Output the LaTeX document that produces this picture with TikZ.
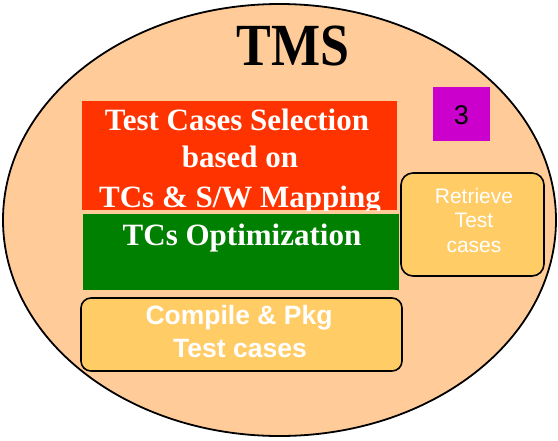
\documentclass[tikz,border=0pt]{standalone}
\usepackage{fontspec}
\setmainfont{Liberation Serif}
\newfontfamily\arialfont{Liberation Sans}
\usetikzlibrary{shapes.geometric}
\definecolor{peach}{HTML}{FFCC99}
\definecolor{softorange}{HTML}{FFCC66}
\definecolor{selred}{HTML}{FF3300}
\definecolor{optgreen}{HTML}{008000}
\definecolor{tagmagenta}{HTML}{CC00CC}
\tikzset{
  panel/.style={rectangle, inner sep=0pt, outer sep=0pt, anchor=north west},
  softbox/.style={panel, draw=black, line width=1.6pt, fill=softorange, rounded corners=12pt},
  serifhead/.style={anchor=base, text=white, inner sep=0pt, font=\bfseries\fontsize{31}{38}\selectfont},
  sanslabel/.style={anchor=base, text=white, inner sep=0pt, font=\arialfont\fontsize{21}{25}\selectfont},
  sansbold/.style={anchor=base, text=white, inner sep=0pt, font=\arialfont\bfseries\fontsize{26.5}{31}\selectfont}
}
\begin{document}
\begin{tikzpicture}[x=1pt,y=-1pt]
\useasboundingbox (0,0) rectangle (558,440);
% outer system ellipse
\node (tms) [ellipse, draw=black, line width=1.8pt, fill=peach, inner sep=0pt,
  minimum width=553pt, minimum height=432pt] at (279.5,220) {};
\node (title) [anchor=base, inner sep=0pt, font=\bfseries\fontsize{52}{60}\selectfont]
  at (293,65) {\scalebox{1}[1.15]{TMS}};
% step number tag
\node (tag) [panel, fill=tagmagenta, minimum width=57pt, minimum height=54pt] at (433,87) {};
\node (tagnum) [anchor=base, inner sep=0pt, font=\arialfont\fontsize{27}{30}\selectfont]
  at (461.5,124) {3};
% selection panel
\node (sel) [panel, fill=selred, minimum width=315pt, minimum height=109pt] at (82,101) {};
\begin{scope}
  \clip (82,101) rectangle (397,210);
  \node (selA) [serifhead] at (237,130) {Test Cases Selection};
  \node (selB) [serifhead] at (240,167) {based on};
  \node (selC) [serifhead] at (240,207) {TCs \& S/W Mapping};
\end{scope}
% optimization panel
\node (opt) [panel, fill=optgreen, minimum width=316pt, minimum height=76pt] at (83,214) {};
\node (optA) [serifhead] at (242,245) {TCs Optimization};
% retrieve box
\node (ret) [softbox, minimum width=143pt, minimum height=103pt] at (401,173) {};
\node (retA) [sanslabel] at (474,203) {Retrieve};
\node (retB) [sanslabel] at (474,227) {Test};
\node (retC) [sanslabel] at (474,252) {cases};
% compile and package box
\node (pkg) [softbox, rounded corners=10pt, minimum width=321pt, minimum height=73pt] at (81,298) {};
\node (pkgA) [sansbold] at (239,324) {Compile \& Pkg};
\node (pkgB) [sansbold] at (240,357) {Test cases};
\end{tikzpicture}
\end{document}
